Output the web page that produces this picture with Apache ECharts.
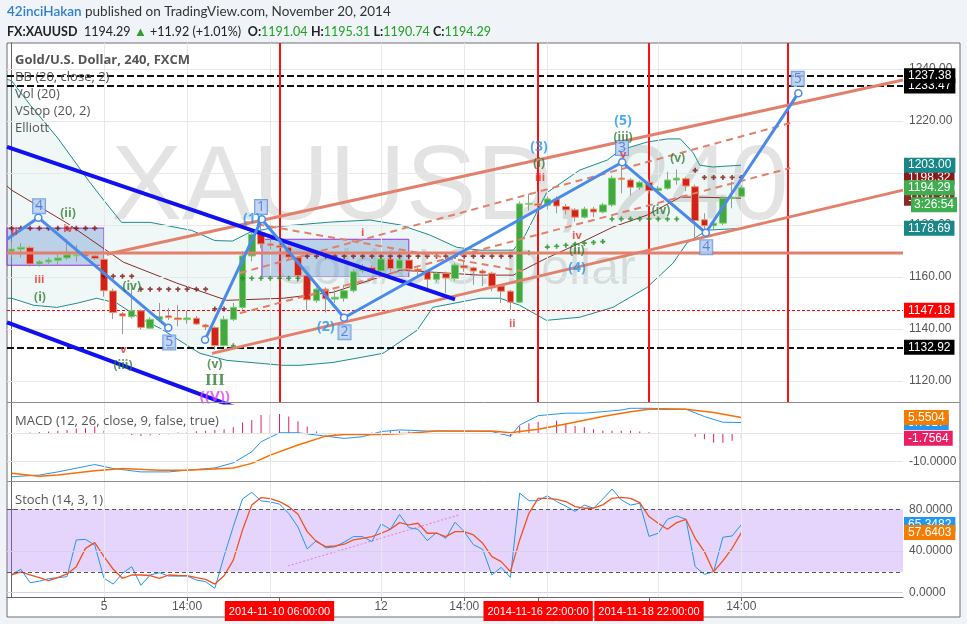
<!DOCTYPE html>
<html><head><meta charset="utf-8">
<script src="https://cdn.jsdelivr.net/npm/echarts@6/dist/echarts.min.js"></script>
<style>html,body{margin:0;padding:0;background:#f0f3f8;}#c{width:967px;height:624px;}</style>
</head><body><div id="c"></div><script>
const NARROW = "'Liberation Sans Narrow','Liberation Sans',Arial,sans-serif";
const SANS = "'Open Sans','DejaVu Sans',sans-serif";
const HEAD = "Lato,'Open Sans',sans-serif";
const SLOTS = 97;

// ---- OHLC (4h bars, index 0..79) ----
const opens  = [1169.9,1170.7,1171.3,1165.0,1165.8,1166.4,1167.3,1168.2,1168.7,1168.1,1166.8,1154.6,1145.8,1144.7,1147.0,1140.3,1143.7,1145.0,1144.2,1143.6,1144.1,1141.5,1140.5,1133.6,1143.7,1148.3,1168.1,1177.1,1172.7,1172.0,1171.4,1167.6,1160.5,1150.9,1155.3,1151.5,1151.8,1154.7,1162.4,1163.6,1162.3,1166.9,1163.3,1166.5,1163.0,1162.3,1159.1,1161.4,1159.4,1164.3,1163.5,1162.3,1161.4,1156.5,1154.5,1150.3,1188.0,1188.1,1187.6,1189.9,1187.1,1185.8,1183.0,1186.1,1185.0,1187.7,1198.0,1197.3,1194.5,1196.4,1193.2,1194.1,1197.3,1197.8,1194.7,1182.0,1179.7,1180.7,1190.3,1191.04];
const closes = [1170.7,1171.4,1165.0,1165.8,1166.5,1167.3,1168.5,1168.4,1168.1,1167.1,1154.7,1146.3,1145.0,1147.0,1140.6,1143.7,1144.7,1144.4,1143.6,1144.2,1141.9,1140.8,1133.6,1143.7,1148.3,1168.1,1176.4,1172.7,1172.2,1171.4,1167.6,1160.5,1151.2,1155.3,1151.6,1152.2,1154.7,1162.0,1163.8,1162.3,1166.9,1163.2,1166.5,1163.0,1162.3,1159.1,1161.4,1159.6,1164.6,1163.5,1162.3,1161.5,1156.5,1154.5,1150.3,1188.1,1188.3,1187.6,1190.0,1187.3,1185.8,1183.0,1186.1,1185.0,1187.7,1198.0,1197.6,1194.5,1196.4,1193.2,1194.1,1197.3,1198.0,1195.0,1181.7,1179.7,1180.7,1190.3,1190.7,1194.29];
const lows   = [1167.8,1167.5,1164.0,1164.0,1165.0,1164.5,1166.5,1165.9,1167.5,1166.5,1152.4,1143.8,1138.0,1144.0,1139.8,1140.0,1143.5,1143.5,1141.0,1142.0,1141.5,1139.5,1132.0,1133.2,1143.0,1147.5,1166.0,1171.0,1170.5,1169.0,1166.5,1158.0,1147.3,1150.0,1146.3,1150.0,1150.5,1154.0,1161.5,1161.5,1161.5,1162.0,1162.5,1161.5,1160.5,1155.0,1158.0,1153.8,1158.5,1162.0,1157.0,1156.5,1154.5,1150.0,1147.3,1150.0,1185.5,1184.0,1186.0,1184.5,1184.0,1181.3,1182.5,1183.0,1184.5,1187.0,1192.2,1191.3,1193.5,1192.0,1192.5,1193.5,1195.5,1193.0,1174.9,1178.1,1178.5,1180.0,1186.4,1190.74];
const highs  = [1173.6,1173.0,1172.0,1166.5,1167.5,1169.0,1174.5,1172.3,1170.0,1168.5,1167.3,1155.5,1146.5,1156.0,1147.5,1144.5,1150.0,1148.0,1149.2,1147.0,1145.0,1142.0,1141.0,1145.0,1150.0,1170.0,1177.5,1182.6,1176.0,1174.0,1172.0,1168.0,1161.0,1156.0,1156.0,1155.0,1157.0,1163.0,1165.0,1164.5,1168.0,1168.0,1167.0,1167.0,1164.0,1162.5,1162.0,1162.0,1165.5,1166.5,1164.0,1163.0,1162.0,1157.0,1155.0,1189.0,1192.0,1192.8,1191.0,1191.0,1188.0,1186.5,1187.0,1187.0,1188.5,1199.0,1204.3,1198.0,1197.0,1197.5,1195.0,1200.5,1201.4,1198.5,1195.5,1184.5,1181.5,1191.0,1196.7,1195.31];

// ---- x axis labels ----
const tickIdx  = [10, 19, 40, 49, 79];
const tickText = ['5', '14:00', '12', '14:00', '14:00'];
const markIdx  = [29, 57, 69];
const markText = ['2014-11-10 06:00:00', '2014-11-16 22:00:00', '2014-11-18 22:00:00'];
const redVLines = [29, 57, 69, 84];
const vGrid = [10, 19, 28, 40, 49, 58, 70, 79];
const priceGrid = [1120, 1140, 1160, 1180, 1200, 1220, 1240];

// ---- Bollinger bands [index, price] ----
const bbUpper = [[-0.5,1236],[0,1235.5],[2,1226.2],[5,1213.4],[8.3,1197.2],[10,1189.4],[11.9,1181],[15,1181],[19.5,1177.9],[22,1174],[23.9,1173.8],[25.8,1177.2],[29.1,1179.5],[34.5,1181.1],[38.8,1181.9],[42.1,1180],[45.3,1176.1],[48.2,1171.4],[50.7,1170.3],[54.3,1170.3],[55.6,1176.1],[57.9,1192.3],[61.5,1201.1],[64.5,1205],[65.9,1208.8],[68.8,1211.9],[71,1213.1],[72.4,1213.1],[73.8,1207.7],[74.5,1203],[75.9,1202.3],[79,1203.0]];
const bbLower = [[-0.5,1151.8],[0,1151.8],[2.4,1149.1],[4.9,1148.3],[7.1,1149.9],[9.2,1151.8],[11.4,1149.9],[13.9,1144.1],[16.1,1140.2],[19,1133.7],[20.4,1130.6],[23.3,1127.9],[29.4,1126],[31.2,1126],[34.8,1127.1],[40.2,1130.6],[43.9,1139.5],[45.6,1148.3],[50.7,1151.8],[52.9,1151.8],[55,1149.1],[57.9,1143.3],[61.5,1144.5],[65.1,1148.3],[68.8,1156],[71.6,1165.3],[73.1,1173],[75.3,1178],[79,1178.69]];
const bbMid = [[-0.5,1195],[0,1193.4],[6,1180.7],[12.1,1165.7],[17.9,1157.6],[23.3,1151],[29.4,1151.8],[34.8,1154.1],[42.1,1162.6],[50.7,1160.7],[54.3,1160.7],[57.9,1167.2],[61.5,1173],[65.1,1179.2],[68.8,1183.8],[72.4,1190.7],[74.2,1190.7],[79,1190.3]];

// ---- VStop ----
const vstopDown = [[0,1178.7],[1,1178.7],[2,1178.7],[3,1178.7],[4,1178.7],[5,1178.7],[6,1178.7],[7,1178.7],[8,1178.7],[9,1178.7],[10,1160.3],[11,1160.3],[12,1160.3],[13,1160.3],[14,1155.3],[15,1155.3],[16,1155.3],[17,1155.3],[18,1155.3],[19,1155.3],[20,1155.3],[21,1155.3],[22,1147.7],[23,1147.7],[32,1168],[33,1168],[34,1168],[35,1168],[36,1168],[37,1168],[38,1168],[39,1168],[40,1168],[41,1168],[42,1168],[43,1168],[44,1168],[45,1168],[46,1168],[47,1168],[48,1168],[49,1168],[50,1168],[51,1168],[52,1168],[53,1168],[54,1168],[74,1201],[75,1198.3],[76,1198.3],[77,1198.3],[78,1198.3],[79,1198.3]];
const vstopUp = [[24,1133.5],[25,1159.5],[26,1159.5],[27,1159.5],[28,1159.5],[29,1159.5],[30,1159.5],[31,1159.5],[55,1169.3],[56,1169.3],[57,1169.3],[58,1171.5],[59,1171.8],[60,1172.2],[61,1172.6],[62,1173],[63,1173.3],[64,1173.6],[65,1182.3],[66,1182.3],[67,1182.3],[68,1182.3],[69,1182.3],[70,1182.3],[71,1182.3],[72,1182.3]];

// ---- drawings ----
const wavePathA = [[-0.5,1174.5],[2.89,1182.8],[16.96,1140.5]];
const wavePathB = [[20.94,1135.8],[27.08,1182.2],[35.99,1144.3],[66.1,1204.1],[75.15,1177.0],[85.17,1230.7]];
const channelUpper = [[10.3,1168.7],[96.5,1235.8]];
const channelLower = [[21.7,1130.6],[96.5,1193.4]];
const dashUp1 = [[24.7,1161.5],[84.3,1219.2]];
const dashUp2 = [[24.7,1146.0],[84.3,1201.9]];
const dashDown = [[25.3,1181.1],[55.3,1162.2]];
const blueTrendUpper = [[-0.5,1210],[48,1151.4]];
const blueTrendLower = [[-0.5,1142.5],[26,1107.5]];
const boxA = [[-0.5,1178.8],[10,1164.5]];
const boxB = [[27.1,1174.5],[43,1159.9]];
const hLevelSalmon = 1169.2;
const hLevelsBlack = [1237.38, 1233.47, 1132.92];
const hLevelRed = 1147.18;

const boxLabels = [[2.97,1187.2,'4'],[17.06,1134.8,'5'],[27.0,1186.9,'1'],[36.04,1138.7,'2'],[66.08,1209.6,'3'],[75.2,1171.4,'4'],[85.1,1236.2,'5']];
const blueWave = [[26.0,1182.2,'(1)'],[34.0,1140.6,'(2)'],[57.1,1210,'(3)'],[66.2,1220,'(5)'],[61.2,1163.4,'(4)']];
const greenWave = [[6.1,1184.5,'(ii)'],[3.07,1152.2,'(i)'],[13.0,1156.4,'(iv)'],[12.06,1126,'(iii)'],[22.0,1126.4,'(v)'],[57.1,1203.8,'(i)'],[66.2,1213.8,'(iii)'],[72.1,1205.7,'(v)'],[70.3,1185.7,'(iv)'],[61.2,1170.3,'(ii)']];
const redWave = [[0.3,1177.2,'ii'],[6.1,1178.4,'iv'],[3,1158.7,'iii'],[12.1,1132.1,'v'],[38.0,1176.8,'i'],[57.2,1198,'iii'],[61.2,1175.7,'iv'],[54.2,1141.8,'ii'],[66.2,1206.9,'v']];
const majorWave = [[22.0,1120.2,'III']];
const cycleWave = [[22.0,1113.8,'((V))']];

// ---- MACD ----
const macdLine = [[0,-15.3],[3,-14.7],[5,-13.6],[9,-11.0],[11,-12.4],[14,-13.6],[17,-13.6],[19,-13.0],[22,-12.2],[24,-10.4],[26,-6.5],[27,-3.0],[29,0.2],[31,0.2],[33,-0.6],[36,-1.8],[38,-1.2],[40,0.6],[42,1.2],[45,0.8],[47,0.8],[52,0.6],[54,-1.0],[55,2.9],[57,6.2],[60,7.1],[62,7.1],[64,7.6],[66,8.2],[67,8.8],[69,8.8],[73,8.5],[75,5.9],[77,3.9],[79,3.79]];
const signalLine = [[0,-14.1],[3,-15.1],[5,-14.7],[9,-13.2],[12,-12.4],[16,-13.0],[19,-13.0],[24,-12.2],[26,-10.6],[28,-7.7],[31,-4.1],[34,-1.0],[36,-0.4],[40,-0.4],[43,0],[46,0.8],[52,0.8],[54,0.2],[57,1.4],[60,3.3],[64,5.9],[67,7.6],[69,8.5],[73,8.5],[76,7.3],[79,5.5504]];
const macdHist = [-0.35,-0.24,0.24,0.47,0.59,0.94,1.18,1.65,1.77,2.36,0.94,-0.24,-0.35,-0.59,-0.94,-0.71,-0.47,-0.35,0.24,0.35,0.71,0.94,1.18,1.41,2.12,3.77,4.71,6.48,6.6,6.83,5.89,4.24,2.36,0.59,-0.35,-0.59,-0.59,-0.35,-0.24,0.24,0.71,0.94,0.82,0.59,0.24,0.12,0.05,0.05,0.05,0.05,0.05,0,-0.1,-0.47,-1.18,2.5,3.5,4.1,3.8,4.5,3.5,2.6,2.1,1.4,0.94,0.94,0.94,0.94,0.59,0.35,0.12,0.05,-0.1,-0.24,-1.18,-2.1,-3.3,-3.3,-2.6,-1.7564];

// ---- Stochastic ----
const stochK = [17.6,22.5,9.6,11,13.5,14.4,15.4,50.6,51.2,45.7,13.8,8.3,18.6,25,7.1,17,19.2,16,16,16,12.2,10.6,4.2,35,63.5,90,96.2,88,87,85,76,63,42,50,43,44,48.5,53.8,53.8,49,66,60.8,75,62.4,60.8,50,57.6,52.2,67.6,58.6,46,41.6,17,24.3,14.7,95.5,88.2,88.2,93,87.4,83,78,84,81,89.8,99.4,89,84,85.8,54,57,70.4,73.6,70.4,25,17.6,20.2,53.2,54.4,65.3482];
const stochD = [17,20,17,14.4,11.5,14.4,18,25,42.5,48,34.6,22.5,13.8,17,17,16.5,13.8,17,16.5,16.3,14.4,12.8,8.3,16.3,31.3,60.2,84.2,91.2,90.2,87.4,82.5,75.2,58.6,49,44.2,44.8,46.5,50.6,52.2,53.8,57,60.8,67.2,65,66.6,57,57,53.8,58.6,58.6,55.4,47.4,34.6,29.8,20.2,50.6,76.1,90.5,90.5,89.5,87.4,82.5,81,81,84.2,90.5,91.5,90.5,86.4,73,66.6,60.8,67.2,70.4,52.2,39.4,20.2,30.5,42.6,57.6403];
const stochTrend = [[29.9,25.6],[48.4,74.5]];

// ================= build =================
const cats = Array.from({length: SLOTS}, (_, i) => String(i));
const candleData = opens.map((o, i) => [o, closes[i], lows[i], highs[i]]);
const bodyData = opens.map((o, i) => [o, closes[i], Math.min(o, closes[i]), Math.max(o, closes[i])]);
const idxPairs = arr => arr.map((v, i) => [i, v]);

const UP = '#43a843', UPB = '#79d46a', DN = '#d1221c', DNB = '#f2956a';
const SALMON = '#e2806c', TEAL = '#1d8d8d';

function line(x, y, data, color, width, type, z, extra) {
  return Object.assign({type: 'line', xAxisIndex: x, yAxisIndex: y, data, symbol: 'none', silent: true,
    lineStyle: {color, width, type: type || 'solid'}, z: z || 3}, extra || {});
}
function textSeries(data, z, label) {
  return {type: 'scatter', xAxisIndex: 1, yAxisIndex: 0, data, symbolSize: 0, silent: true, z,
    label: Object.assign({show: true, position: 'inside', formatter: p => p.value[2]}, label)};
}
function tag(value, bg, text) {
  return {yAxis: value, lineStyle: {color: 'rgba(0,0,0,0)', width: 0}, label: {show: true, position: 'end', distance: 1, formatter: text,
    backgroundColor: bg, color: '#fff', padding: [2, 4, 1, 4], fontSize: 12, fontFamily: NARROW, opacity: 1}};
}
function gridLines(values, axisKey, color, type) {
  return values.map(v => ({[axisKey]: v, lineStyle: {color, width: 1, type: type || 'solid'}}));
}
const dummy = [[-10, -1000]];

const series = [
  line(1, 0, dummy, '#000', 1, 'solid', 0, {markLine: {silent: true, symbol: ['none','none'], label: {show: false}, animation: false,
    data: gridLines(priceGrid, 'yAxis', '#e8e8e8').concat(gridLines(vGrid, 'xAxis', '#e8e8e8'))}}),
  {type: 'custom', xAxisIndex: 1, yAxisIndex: 0, data: [[0, 1150]], z: 1, silent: true, clip: true,
    renderItem: (params, api) => {
      const pts = bbUpper.map(p => api.coord(p)).concat(bbLower.slice().reverse().map(p => api.coord(p)));
      return {type: 'polygon', shape: {points: pts}, style: {fill: 'rgba(29,141,141,0.065)'}};
    }},
  line(1, 0, bbUpper, TEAL, 1, 'solid', 2),
  line(1, 0, bbLower, TEAL, 1, 'solid', 2),
  line(1, 0, bbMid, '#8a2b2b', 1, 'solid', 2),
  line(1, 0, dummy, '#000', 1, 'solid', 2, {markArea: {silent: true, itemStyle: {color: 'rgba(120,160,215,0.42)', borderColor: '#9b30d9', borderWidth: 1},
    data: [[{coord: boxA[0]}, {coord: boxA[1]}], [{coord: boxB[0]}, {coord: boxB[1]}]]}}),
  line(1, 0, dummy, '#000', 1, 'solid', 4, {markLine: {silent: true, symbol: ['none','none'], label: {show: false},
    data: [{yAxis: hLevelRed, lineStyle: {color: '#f00', width: 1, type: [3, 2]}}]
      .concat(hLevelsBlack.map(v => ({yAxis: v, lineStyle: {color: '#111', width: 2, type: [7, 3]}})))}}),
  {type: 'candlestick', xAxisIndex: 0, yAxisIndex: 0, data: candleData, barWidth: 2, z: 5, silent: true,
    itemStyle: {color: '#9a9a9a', color0: '#9a9a9a', borderColor: '#9a9a9a', borderColor0: '#9a9a9a', borderWidth: 1}},
  {type: 'candlestick', xAxisIndex: 0, yAxisIndex: 0, data: bodyData, barWidth: 7, z: 6, silent: true,
    itemStyle: {color: UP, color0: DN, borderColor: UPB, borderColor0: DNB, borderWidth: 1}},
  {type: 'scatter', xAxisIndex: 1, yAxisIndex: 0, data: vstopDown, symbol: 'path://M2,0h2v2h2v2h-2v2h-2v-2h-2v-2h2z', symbolSize: 5, itemStyle: {color: '#7a1414'}, z: 6, silent: true},
  {type: 'scatter', xAxisIndex: 1, yAxisIndex: 0, data: vstopUp, symbol: 'path://M2,0h2v2h2v2h-2v2h-2v-2h-2v-2h2z', symbolSize: 5, itemStyle: {color: '#1c8c1c'}, z: 6, silent: true},
  line(1, 0, [[-0.5, hLevelSalmon], [96.5, hLevelSalmon]], SALMON, 3, 'solid', 7),
  line(1, 0, channelUpper, SALMON, 3, 'solid', 7),
  line(1, 0, channelLower, SALMON, 3, 'solid', 7),
  line(1, 0, dashUp1, SALMON, 2, [7, 5], 7),
  line(1, 0, dashUp2, SALMON, 2, [7, 5], 7),
  line(1, 0, dashDown, SALMON, 2, [7, 5], 7),
  line(1, 0, blueTrendUpper, '#1010f0', 4, 'solid', 8),
  line(1, 0, blueTrendLower, '#1010f0', 4, 'solid', 8),
  line(1, 0, wavePathA.map((p, k) => ({value: p, symbol: k === 0 ? 'none' : 'circle'})), '#4a8aea', 3, 'solid', 9,
    {symbol: 'circle', symbolSize: 7, itemStyle: {color: '#fff', borderColor: '#4a8aea', borderWidth: 1.5}}),
  line(1, 0, wavePathB, '#4a8aea', 3, 'solid', 9,
    {symbol: 'circle', symbolSize: 7, itemStyle: {color: '#fff', borderColor: '#4a8aea', borderWidth: 1.5}}),
  line(1, 0, dummy, '#000', 1, 'solid', 12, {markLine: {silent: true, symbol: ['none','none'], label: {show: false},
    data: redVLines.map(v => ({xAxis: v, lineStyle: {color: '#ff1010', width: 2, type: 'solid'}}))}}),
  textSeries(boxLabels, 13, {fontSize: 14, fontFamily: SANS, color: '#3f6fcf', backgroundColor: '#b4cdf3', borderColor: '#5d8fe0', borderWidth: 1, padding: [0, 2, 0, 2]}),
  textSeries(blueWave, 13, {fontSize: 14, fontWeight: 'bold', fontFamily: SANS, color: '#2196f3'}),
  textSeries(greenWave, 13, {fontSize: 12, fontWeight: 'bold', fontFamily: SANS, color: '#2e7d32'}),
  textSeries(redWave, 13, {fontSize: 11, fontWeight: 'bold', fontFamily: SANS, color: '#e8302a'}),
  textSeries(majorWave, 13, {fontSize: 17, fontWeight: 'bold', fontFamily: "'Liberation Serif','DejaVu Serif',serif", color: '#2e7d32'}),
  textSeries(cycleWave, 13, {fontSize: 15, fontWeight: 'bold', fontFamily: SANS, color: '#e040fb'}),
  line(1, 0, dummy, '#000', 1, 'solid', 20, {markLine: {silent: true, symbol: ['none','none'], data: [
    tag(1190.3, '#8a2b2b', '1190.30'), tag(1198.32, '#8b1a1a', '1198.32'), tag(1194.29, '#3fae4f', '1194.29'),
    tag(1203.0, '#178787', '1203.00'), tag(1178.69, '#178787', '1178.69'), tag(hLevelRed, '#ff0000', '1147.18'),
    tag(1132.92, '#000', '1132.92'), tag(1233.47, '#000', '1233.47'), tag(1237.38, '#000', '1237.38')]}}),

  line(2, 1, dummy, '#000', 1, 'solid', 0, {markLine: {silent: true, symbol: ['none','none'], label: {show: false},
    data: gridLines([0, -10], 'yAxis', '#e4e4e4').concat(gridLines(vGrid, 'xAxis', '#e8e8e8'))}}),
  {type: 'bar', xAxisIndex: 2, yAxisIndex: 1, data: idxPairs(macdHist), barWidth: 1, itemStyle: {color: '#e91e63'}, silent: true, z: 3},
  line(2, 1, macdLine, '#2196f3', 1, 'solid', 4),
  line(2, 1, signalLine, '#ff6d00', 1.5, 'solid', 4),
  line(2, 1, dummy, '#000', 1, 'solid', 20, {markLine: {silent: true, symbol: ['none','none'], data: [
    tag(3.79, '#2196f3', '3.7917'), tag(5.5504, '#f57c00', '5.5504'), tag(-1.7564, '#e91e63', '-1.7564')]}}),

  line(3, 2, dummy, '#000', 1, 'solid', 0, {
    markArea: {silent: true, itemStyle: {color: 'rgba(160,100,245,0.27)'}, data: [[{yAxis: 20}, {yAxis: 80}]]},
    markLine: {silent: true, symbol: ['none','none'], label: {show: false},
      data: gridLines([40, 0], 'yAxis', '#d8d0e4').concat(gridLines(vGrid, 'xAxis', '#e8e8e8'))
        .concat(gridLines([20, 80], 'yAxis', '#555', [4, 3]))}}),
  line(3, 2, stochTrend, '#e38ad0', 1.2, [2, 2], 3),
  line(3, 2, idxPairs(stochK), '#2196f3', 1, 'solid', 4),
  line(3, 2, idxPairs(stochD), '#f4511e', 1.3, 'solid', 4),
  line(3, 2, dummy, '#000', 1, 'solid', 20, {markLine: {silent: true, symbol: ['none','none'], data: [
    tag(65.3482, '#2196f3', '65.3482'), tag(57.6403, '#f57c00', '57.6403')]}})
];

const axisLbl = {color: '#555', fontSize: 12, fontFamily: NARROW, margin: 6};
const hiddenVal = (g) => ({type: 'value', gridIndex: g, min: -0.5, max: SLOTS - 0.5, show: false});
const isTick = idx => tickIdx.includes(idx) || markIdx.includes(idx);

const option = {
  animation: false,
  backgroundColor: 'transparent',
  grid: [
    {left: 7, right: 64, top: 43, height: 359.5},
    {left: 7, right: 64, top: 403, height: 78},
    {left: 7, right: 64, top: 481, height: 116}
  ],
  xAxis: [
    {type: 'category', gridIndex: 0, data: cats, boundaryGap: true, show: false},
    hiddenVal(0), hiddenVal(1), hiddenVal(2),
    {type: 'category', gridIndex: 2, data: cats, boundaryGap: true, position: 'bottom',
      axisLine: {show: true, lineStyle: {color: '#666'}},
      axisTick: {show: true, interval: isTick, alignWithLabel: true, length: 4, lineStyle: {color: '#666'}},
      axisLabel: {interval: isTick, color: '#555', fontSize: 12, fontFamily: NARROW, margin: 4,
        formatter: (v, idx) => {
          const k = tickIdx.indexOf(idx); if (k >= 0) return tickText[k];
          const m = markIdx.indexOf(idx); if (m >= 0) return '{r|' + markText[m] + '}';
          return '';
        },
        rich: {r: {backgroundColor: '#ff0000', color: '#fff', padding: [5, 4, 4, 4], fontSize: 11, fontFamily: NARROW}}},
      splitLine: {show: false}}
  ],
  yAxis: [
    {type: 'value', gridIndex: 0, position: 'right', min: 1111.7, max: 1250.0, splitLine: {show: false},
      axisLine: {show: true, lineStyle: {color: '#666'}},
      axisTick: {show: true, customValues: priceGrid, length: 3, lineStyle: {color: '#666'}},
      axisLabel: Object.assign({customValues: priceGrid, formatter: v => v.toFixed(2)}, axisLbl)},
    {type: 'value', gridIndex: 1, position: 'right', min: -16.8, max: 10.67, splitLine: {show: false},
      axisLine: {show: true, lineStyle: {color: '#666'}},
      axisTick: {show: true, customValues: [-10], length: 3, lineStyle: {color: '#666'}},
      axisLabel: Object.assign({customValues: [-10], formatter: v => v.toFixed(4)}, axisLbl)},
    {type: 'value', gridIndex: 2, position: 'right', min: -4.1, max: 107.1, splitLine: {show: false},
      axisLine: {show: true, lineStyle: {color: '#666'}},
      axisTick: {show: true, customValues: [0, 40, 80], length: 3, lineStyle: {color: '#666'}},
      axisLabel: Object.assign({customValues: [0, 40, 80], formatter: v => v.toFixed(4)}, axisLbl)}
  ],
  graphic: [
    {type: 'rect', shape: {x: 7, y: 43, width: 953, height: 574}, style: {fill: '#fff', stroke: '#6f6f6f', lineWidth: 1}, z: -100, silent: true},
    {type: 'text', x: 450, y: 190, style: {text: 'XAUUSD, 240', fill: 'rgba(0,0,0,0.11)', font: "106px 'Liberation Sans',Arial,sans-serif", textAlign: 'center', textVerticalAlign: 'middle'}, z: -50, silent: true},
    {type: 'text', x: 455, y: 270, style: {text: 'Gold/U.S. Dollar', fill: 'rgba(0,0,0,0.11)', font: "50px 'Liberation Sans',Arial,sans-serif", textAlign: 'center', textVerticalAlign: 'middle'}, z: -50, silent: true},
    {type: 'line', shape: {x1: 7, y1: 402.5, x2: 960, y2: 402.5}, style: {stroke: '#8c8c8c', lineWidth: 1}, z: 50, silent: true},
    {type: 'line', shape: {x1: 7, y1: 481.5, x2: 960, y2: 481.5}, style: {stroke: '#8c8c8c', lineWidth: 1}, z: 50, silent: true},
    {type: 'text', x: 7, y: 12, style: {text: '{u|42inciHakan} {t|published on TradingView.com, November 20, 2014}', textVerticalAlign: 'middle',
      rich: {u: {fill: '#2f7fd1', font: "600 13.5px " + HEAD}, t: {fill: '#333', font: "13.5px " + HEAD}}}, silent: true},
    {type: 'text', x: 7, y: 32, style: {text: '{b|FX:XAUUSD}  {n|1194.29} {g|▲} {n|+11.92 (+1.01%)}  {b|O:}{v|1191.04} {b|H:}{v|1195.31} {b|L:}{v|1190.74} {b|C:}{v|1194.29}', textVerticalAlign: 'middle',
      rich: {b: {fill: '#222', font: "bold 12.5px " + HEAD}, n: {fill: '#222', font: "12.5px " + HEAD}, g: {fill: '#2ea02e', font: "13px " + HEAD}, v: {fill: '#1ea31e', font: "12.5px " + HEAD}}}, silent: true},
    {type: 'text', x: 15, y: 60, style: {text: 'Gold/U.S. Dollar, 240, FXCM', fill: '#555', font: "bold 13px " + SANS, textVerticalAlign: 'middle'}, z: 30, silent: true},
    {type: 'text', x: 15, y: 77, style: {text: 'BB (20, close, 2)', fill: '#555', font: "13px " + SANS, textVerticalAlign: 'middle'}, z: 30, silent: true},
    {type: 'text', x: 15, y: 94, style: {text: 'Vol (20)', fill: '#555', font: "13px " + SANS, textVerticalAlign: 'middle'}, z: 30, silent: true},
    {type: 'text', x: 15, y: 111, style: {text: 'VStop (20, 2)', fill: '#555', font: "13px " + SANS, textVerticalAlign: 'middle'}, z: 30, silent: true},
    {type: 'text', x: 15, y: 128, style: {text: 'Elliott', fill: '#555', font: "13px " + SANS, textVerticalAlign: 'middle'}, z: 30, silent: true},
    {type: 'text', x: 15, y: 421, style: {text: 'MACD (12, 26, close, 9, false, true)', fill: '#555', font: "13px " + SANS, textVerticalAlign: 'middle'}, z: 30, silent: true},
    {type: 'text', x: 15, y: 500, style: {text: 'Stoch (14, 3, 1)', fill: '#555', font: "13px " + SANS, textVerticalAlign: 'middle'}, z: 30, silent: true}
  ],
  series
};

const chart = echarts.init(document.getElementById('c'));
chart.setOption(option);
const yClose = chart.convertToPixel({yAxisIndex: 0}, closes[closes.length - 1]);
chart.setOption({graphic: option.graphic.concat([
  {type: 'text', x: 911, y: yClose + 17, style: {text: '3:26:54', fill: '#fff', backgroundColor: '#3fae4f', padding: [2, 3, 1, 3],
    font: "12px " + NARROW, textVerticalAlign: 'middle'}, z: 60, silent: true}
])});
</script></body></html>
